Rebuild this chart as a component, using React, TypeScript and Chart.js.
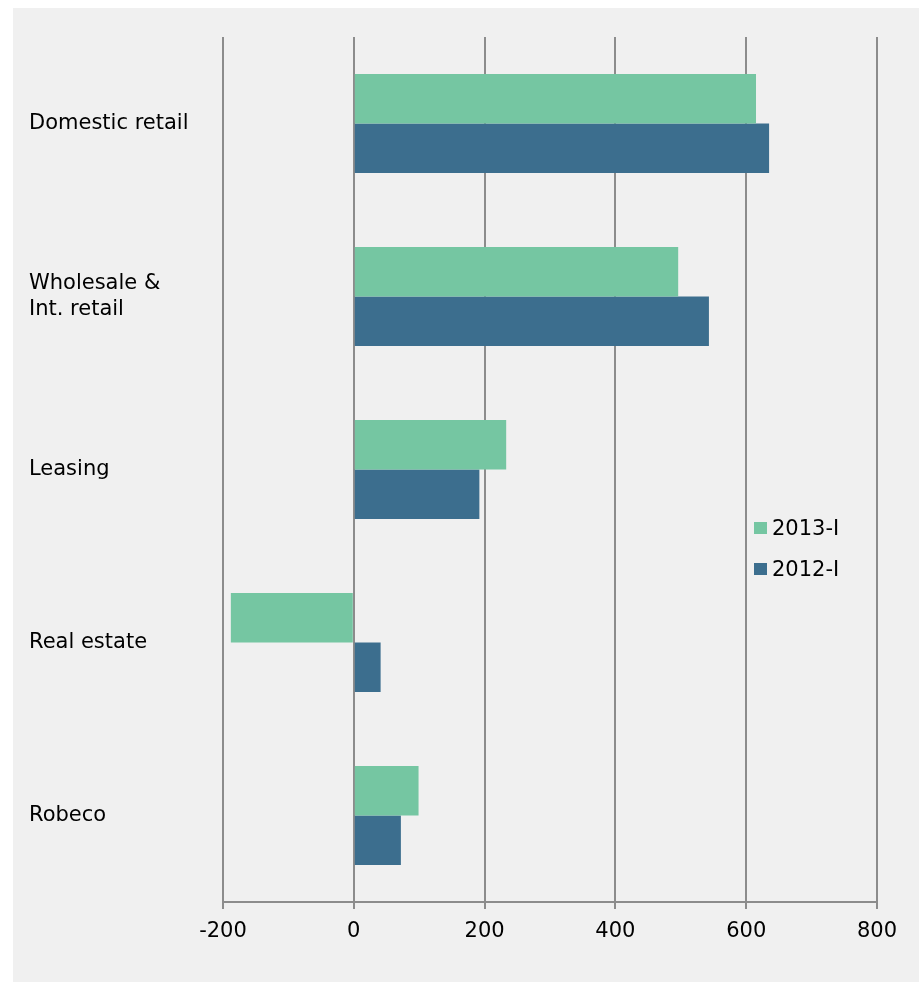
import React, { useEffect, useRef } from "react";
import { Chart, registerables } from "chart.js";

Chart.register(...registerables);

const categories: (string | string[])[] = [
  "Domestic retail",
  ["Wholesale &", "Int. retail"],
  "Leasing",
  "Real estate",
  "Robeco",
];
const seriesNames = ["2013-I", "2012-I"];
const values2013 = [615, 496, 233, -188, 99];
const values2012 = [635, 543, 192, 41, 72];
const xMin = -200;
const xMax = 800;
const xStep = 200;

const GREEN = "#75c6a2";
const BLUE = "#3c6e8e";
const GRID = "#8c8c8c";
const FONT = "'DejaVu Sans', Verdana, sans-serif";

export default function App() {
  const canvasRef = useRef<HTMLCanvasElement | null>(null);

  useEffect(() => {
    document.body.style.margin = "0";
    document.documentElement.style.overflow = "hidden";
    const ctx = canvasRef.current;
    if (!ctx) return;
    const chart = new Chart(ctx, {
      type: "bar",
      data: {
        labels: categories as any,
        datasets: [
          {
            label: seriesNames[0],
            data: values2013,
            backgroundColor: GREEN,
            borderWidth: 0,
            categoryPercentage: 0.573,
            barPercentage: 1,
          },
          {
            label: seriesNames[1],
            data: values2012,
            backgroundColor: BLUE,
            borderWidth: 0,
            categoryPercentage: 0.573,
            barPercentage: 1,
          },
        ],
      },
      options: {
        indexAxis: "y",
        animation: false,
        responsive: true,
        maintainAspectRatio: false,
        layout: { padding: { left: 16, top: 29, right: 42, bottom: 30 } },
        plugins: {
          legend: { display: false },
          tooltip: { enabled: false },
        },
        scales: {
          x: {
            type: "linear",
            min: xMin,
            max: xMax,
            ticks: {
              stepSize: xStep,
              color: "#000",
              font: { family: FONT, size: 21 },
              padding: 10,
              callback: (v: any) => String(v),
            },
            grid: {
              color: GRID,
              lineWidth: 2,
              drawTicks: true,
              tickLength: 7,
              tickColor: GRID,
            },
            border: { display: true, color: GRID, width: 2 },
            afterFit: (scale: any) => {
              scale.height = 50;
            },
          },
          y: {
            type: "category",
            grid: { display: false, drawTicks: false },
            border: { display: false },
            ticks: {
              crossAlign: "far",
              color: "#000",
              font: { family: FONT, size: 21, lineHeight: 1.25 },
              padding: 0,
            },
            afterFit: (scale: any) => {
              scale.width = 194;
            },
          },
        },
      } as any,
    });
    return () => chart.destroy();
  }, []);

  const legendRow = (color: string, text: string, top: number) => (
    <div
      style={{
        position: "absolute",
        left: 741,
        top,
        height: 24,
        display: "flex",
        alignItems: "center",
        fontFamily: FONT,
        fontSize: 21,
        color: "#000",
        lineHeight: "24px",
        whiteSpace: "nowrap",
      }}
    >
      <span
        style={{
          display: "inline-block",
          width: 13,
          height: 12,
          background: color,
          marginRight: 5,
        }}
      />
      <span>{text}</span>
    </div>
  );

  return (
    <div
      style={{
        position: "absolute",
        left: 13,
        top: 8,
        width: 906,
        height: 974,
        background: "#f0f0f0",
      }}
    >
      <canvas ref={canvasRef} />
      {legendRow(GREEN, seriesNames[0], 508)}
      {legendRow(BLUE, seriesNames[1], 549)}
    </div>
  );
}
